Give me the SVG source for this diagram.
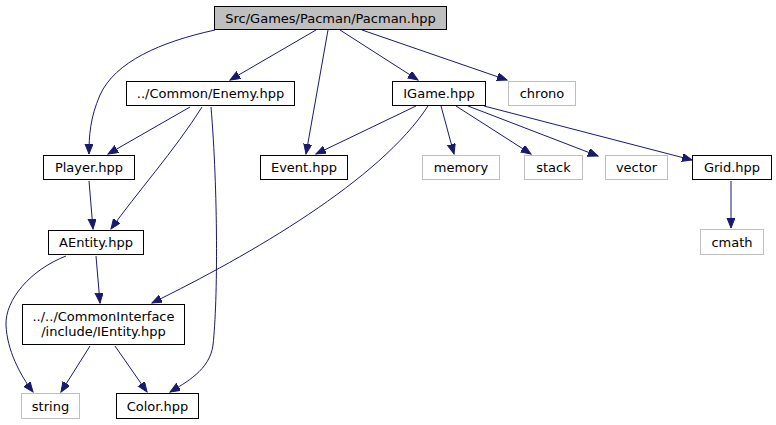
<svg xmlns="http://www.w3.org/2000/svg" width="776" height="425" viewBox="0 0 776 425">
<defs>
<marker id="ah" markerUnits="userSpaceOnUse" markerWidth="12" markerHeight="10" refX="10" refY="4" orient="auto">
<path d="M0,0 L10,4 L0,8 z" fill="#191970" stroke="#191970" stroke-width="1"/>
</marker>
</defs>
<style>
.n rect{fill:#fff;stroke:#000;stroke-width:1}
.g rect{fill:#fff;stroke:#bfbfbf;stroke-width:1}
.r rect{fill:#bfbfbf;stroke:#000;stroke-width:1}
text{font-family:"DejaVu Sans",sans-serif;font-size:13px;text-anchor:middle;fill:#000}
#edges path{fill:none;stroke:#191970;stroke-width:1;marker-end:url(#ah)}
</style>
<rect width="776" height="425" fill="#fff"/>
<g id="edges">
<path d="M215,30 C160,42 115,62 100,95 C90,118 89,136 89,154"/>
<path d="M316,30 L230,80"/>
<path d="M328,30 L306,154"/>
<path d="M340,30 L418,80"/>
<path d="M362,30 L507,80"/>
<path d="M190,107 L108,154"/>
<path d="M202,107 C175,150 135,195 111,229"/>
<path d="M211,107 C218,190 218,300 213,345 C210,370 185,383 170,392"/>
<path d="M416,106 L316,154"/>
<path d="M428,106 C380,180 250,255 152,303"/>
<path d="M441,106 L454,154"/>
<path d="M456,106 L531,154"/>
<path d="M468,106 L598,156"/>
<path d="M484,106 L692,160"/>
<path d="M731,181 L731,228"/>
<path d="M89,181 L93,229"/>
<path d="M96,256 L100,303"/>
<path d="M66,256 C30,270 5,300 6,325 C7,350 20,375 33,392"/>
<path d="M90,346 L61,392"/>
<path d="M115,346 L147,392"/>
</g>
<g id="pacman" class="r"><rect x="214.5" y="6.5" width="232" height="23"/><text x="330.5" y="22.5">Src/Games/Pacman/Pacman.hpp</text></g>
<g id="enemy" class="n"><rect x="126.5" y="81.5" width="168" height="24"/><text x="210.5" y="98">../Common/Enemy.hpp</text></g>
<g id="igame" class="n"><rect x="392.5" y="81.5" width="93" height="24"/><text x="439" y="98">IGame.hpp</text></g>
<g id="chrono" class="g"><rect x="508.5" y="81.5" width="67" height="24"/><text x="542" y="98">chrono</text></g>
<g id="player" class="n"><rect x="43.5" y="155.5" width="91" height="24"/><text x="89" y="172">Player.hpp</text></g>
<g id="event" class="n"><rect x="260.5" y="155.5" width="87" height="24"/><text x="304" y="172">Event.hpp</text></g>
<g id="memory" class="g"><rect x="422.5" y="155.5" width="77" height="24"/><text x="461" y="172">memory</text></g>
<g id="stack" class="g"><rect x="524.5" y="155.5" width="58" height="24"/><text x="553.5" y="172">stack</text></g>
<g id="vector" class="g"><rect x="605.5" y="155.5" width="62" height="24"/><text x="636.5" y="172">vector</text></g>
<g id="grid" class="n"><rect x="692.5" y="155.5" width="79" height="24"/><text x="732" y="172">Grid.hpp</text></g>
<g id="cmath" class="g"><rect x="700.5" y="229.5" width="63" height="25"/><text x="732" y="246.5">cmath</text></g>
<g id="aentity" class="n"><rect x="48.5" y="230.5" width="95" height="24"/><text x="96" y="247">AEntity.hpp</text></g>
<g id="ientity" class="n"><rect x="22.5" y="304.5" width="162" height="40"/><text x="103.5" y="321">../../CommonInterface</text><text x="103.5" y="336">/include/IEntity.hpp</text></g>
<g id="string" class="g"><rect x="21.5" y="393.5" width="58" height="25"/><text x="50.5" y="410.5">string</text></g>
<g id="color" class="n"><rect x="116.5" y="393.5" width="82" height="25"/><text x="157.5" y="410.5">Color.hpp</text></g>
</svg>
